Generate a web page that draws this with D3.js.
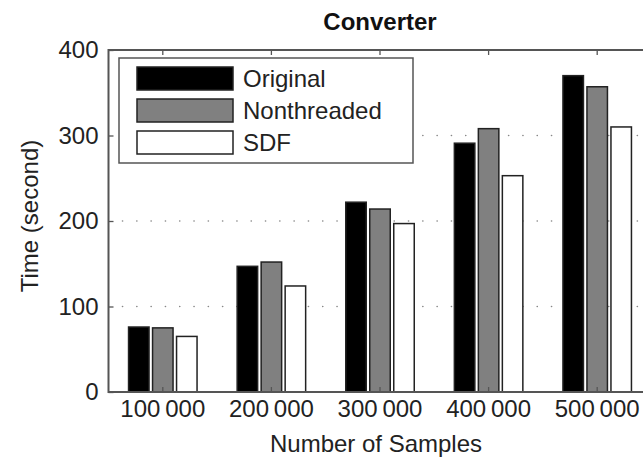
<!DOCTYPE html>
<html>
<head>
<meta charset="utf-8">
<script src="https://cdn.jsdelivr.net/npm/d3@7"></script>
<style>
    body { margin: 0; background: #fff; }
    svg { display: block; font-family: "Liberation Sans", Arial, Helvetica, sans-serif; }
    .axis path { display: none; }
    .axis line { stroke: #555; stroke-width: 1.3; }
    .axis text { font-size: 24px; fill: #222; }
</style>
</head>
<body>
<svg id="chart"></svg>
<script>
// data
const categories = [1, 2, 3, 4, 5];
const xTickLabels = ["100\u2009000", "200\u2009000", "300\u2009000", "400\u2009000", "500\u2009000"];
const seriesNames = ["Original", "Nonthreaded", "SDF"];
const seriesFills = ["#000000", "#808080", "#ffffff"];
const original = [76, 147, 222, 291, 370];
const nonthreaded = [75, 152, 214, 308, 357];
const sdf = [65, 124, 197, 253, 310];
const yTicks = [0, 100, 200, 300, 400];
const gridTicks = [100, 200, 300];

const seriesValues = [original, nonthreaded, sdf];

var wtot = 643,
    htot = 461;

// axes box, right edge falls outside the picture (cropped like the original)
var margin = { top: 50, left: 108.5, bottom: 392 },
    right = 651.5;

const svg = d3.select("#chart")
    .attr("width", wtot)
    .attr("height", htot);

// scales
const x = d3.scaleBand()
    .domain(categories)
    .range([margin.left, right]);

const xs = d3.scaleBand()
    .domain(seriesNames)
    .range([-36, 36])
    .paddingInner(0.146)
    .paddingOuter(0.073);

const y = d3.scaleLinear()
    .domain([0, 400])
    .range([margin.bottom, margin.top]);

const cx = c => x(c) + x.bandwidth() / 2;

// dotted grid
svg.append("g")
    .selectAll("line")
    .data(gridTicks)
    .join("line")
    .attr("x1", margin.left + 14)
    .attr("x2", right)
    .attr("y1", d => y(d))
    .attr("y2", d => y(d))
    .attr("stroke", "#888")
    .attr("stroke-width", 1.6)
    .attr("stroke-linecap", "round")
    .attr("stroke-dasharray", "0.1,14.2");

// bars
const rows = [];
categories.forEach((c, i) => {
    seriesNames.forEach((s, j) => {
        rows.push({ cat: c, name: s, fill: seriesFills[j], value: seriesValues[j][i] });
    });
});

svg.append("g")
    .selectAll("rect")
    .data(rows)
    .join("rect")
    .attr("x", d => cx(d.cat) + xs(d.name))
    .attr("width", xs.bandwidth())
    .attr("y", d => y(d.value))
    .attr("height", d => y(0) - y(d.value))
    .attr("fill", d => d.fill)
    .attr("stroke", "#222")
    .attr("stroke-width", 1.5);

// axes (ticks point inward)
const yAxis = d3.axisLeft(y)
    .tickValues(yTicks)
    .tickSize(-5)
    .tickPadding(10)
    .tickFormat(d3.format("d"));

svg.append("g")
    .attr("class", "axis")
    .attr("transform", `translate(${margin.left},0)`)
    .call(yAxis);

const xAxis = d3.axisBottom(x)
    .tickSize(-5)
    .tickPadding(8)
    .tickFormat((d, i) => xTickLabels[i]);

svg.append("g")
    .attr("class", "axis")
    .attr("transform", `translate(0,${margin.bottom})`)
    .call(xAxis);

svg.append("g")
    .attr("class", "axis")
    .attr("transform", `translate(0,${margin.top})`)
    .call(d3.axisTop(x).tickSize(-5).tickFormat(""));

// box
svg.append("rect")
    .attr("x", margin.left)
    .attr("y", margin.top)
    .attr("width", right - margin.left)
    .attr("height", margin.bottom - margin.top)
    .attr("fill", "none")
    .attr("stroke", "#555")
    .attr("stroke-width", 2);

// legend
const legend = svg.append("g")
    .attr("transform", "translate(119,58)");

legend.append("rect")
    .attr("width", 294)
    .attr("height", 105)
    .attr("fill", "#fff")
    .attr("stroke", "#555")
    .attr("stroke-width", 1.5);

const items = legend.selectAll("g.item")
    .data(seriesNames)
    .join("g")
    .attr("class", "item")
    .attr("transform", (d, i) => `translate(18,${9 + i * 32})`);

items.append("rect")
    .attr("width", 96)
    .attr("height", 23)
    .attr("fill", (d, i) => seriesFills[i])
    .attr("stroke", "#222")
    .attr("stroke-width", 1.5);

items.append("text")
    .attr("x", 106)
    .attr("y", 11.5)
    .attr("dy", "0.35em")
    .attr("font-size", 24)
    .attr("fill", "#222")
    .text(d => d);

// titles
svg.append("text")
    .attr("x", (margin.left + right) / 2)
    .attr("y", 30)
    .attr("text-anchor", "middle")
    .attr("font-size", 24)
    .attr("font-weight", "bold")
    .attr("fill", "#111")
    .text("Converter");

svg.append("text")
    .attr("x", 376)
    .attr("y", 452)
    .attr("text-anchor", "middle")
    .attr("font-size", 24)
    .attr("fill", "#222")
    .text("Number of Samples");

svg.append("text")
    .attr("transform", "translate(38,216) rotate(-90)")
    .attr("text-anchor", "middle")
    .attr("font-size", 24)
    .attr("fill", "#222")
    .text("Time (second)");
</script>
</body>
</html>
